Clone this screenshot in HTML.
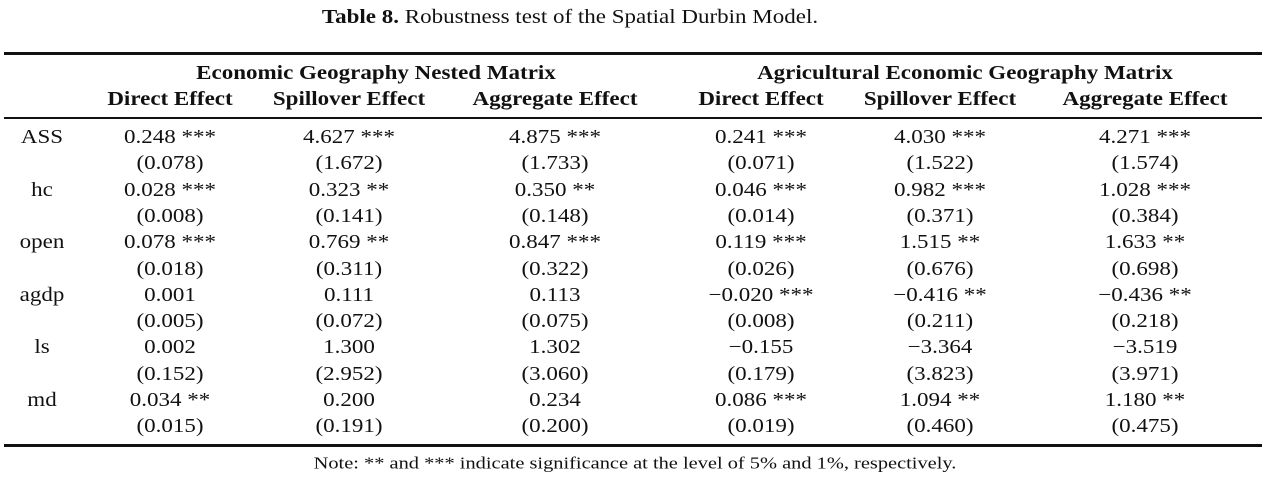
<!DOCTYPE html>
<html><head><meta charset="utf-8"><style>
body{margin:0;width:1280px;height:484px;background:#fff;position:relative;font-family:"Liberation Serif",serif;color:#111;overflow:hidden}
.t{position:absolute;white-space:nowrap;transform:translate(-50%,-50%) scaleX(1.15);font-size:20px;line-height:1}
.b{font-weight:bold}
.r{position:absolute;left:4px;width:1258px;background:#111}
</style></head><body>
<div class="t" style="left:570px;top:17px;font-size:20px"><b>Table 8.</b> Robustness test of the Spatial Durbin Model.</div>
<div class="r" style="top:52px;height:3px"></div>
<div class="r" style="top:117px;height:1.5px"></div>
<div class="r" style="top:444px;height:3px"></div>
<div class="t b" style="left:376px;top:73px">Economic Geography Nested Matrix</div>
<div class="t b" style="left:965px;top:73px">Agricultural Economic Geography Matrix</div>
<div id="c"></div>
<div class="t" style="left:635px;top:463px;font-size:17px;transform:translate(-50%,-50%) scaleX(1.2)">Note: ** and *** indicate significance at the level of 5% and 1%, respectively.</div>
<script>
var xs=[170,349,555,761,940,1145];
var hd=["Direct Effect","Spillover Effect","Aggregate Effect","Direct Effect","Spillover Effect","Aggregate Effect"];
var rows=[["ASS","0.248 ***","4.627 ***","4.875 ***","0.241 ***","4.030 ***","4.271 ***"],
["","(0.078)","(1.672)","(1.733)","(0.071)","(1.522)","(1.574)"],
["hc","0.028 ***","0.323 **","0.350 **","0.046 ***","0.982 ***","1.028 ***"],
["","(0.008)","(0.141)","(0.148)","(0.014)","(0.371)","(0.384)"],
["open","0.078 ***","0.769 **","0.847 ***","0.119 ***","1.515 **","1.633 **"],
["","(0.018)","(0.311)","(0.322)","(0.026)","(0.676)","(0.698)"],
["agdp","0.001","0.111","0.113","\u22120.020 ***","\u22120.416 **","\u22120.436 **"],
["","(0.005)","(0.072)","(0.075)","(0.008)","(0.211)","(0.218)"],
["ls","0.002","1.300","1.302","\u22120.155","\u22123.364","\u22123.519"],
["","(0.152)","(2.952)","(3.060)","(0.179)","(3.823)","(3.971)"],
["md","0.034 **","0.200","0.234","0.086 ***","1.094 **","1.180 **"],
["","(0.015)","(0.191)","(0.200)","(0.019)","(0.460)","(0.475)"]];
var h="";
for(var i=0;i<6;i++)h+='<div class="t b" style="left:'+xs[i]+'px;top:99px">'+hd[i]+'</div>';
for(var r=0;r<rows.length;r++){var y=137+r*26.3;
h+='<div class="t" style="left:42px;top:'+y+'px">'+rows[r][0]+'</div>';
for(var i=0;i<6;i++)h+='<div class="t" style="left:'+xs[i]+'px;top:'+y+'px">'+rows[r][i+1]+'</div>';}
document.getElementById("c").innerHTML=h;
</script>
</body></html>
